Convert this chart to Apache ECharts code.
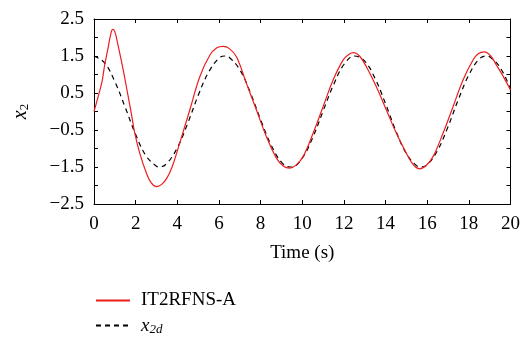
<!DOCTYPE html>
<html>
<head>
<meta charset="utf-8">
<script src="https://cdn.jsdelivr.net/npm/echarts@6/dist/echarts.min.js"></script>
<style>
html, body { margin: 0; padding: 0; background: #fff; }
#chart { width: 523px; height: 337px; }
</style>
</head>
<body>
<div id="chart"></div>
<script>
( () => {
    // values, [time (s), value]
    const seriesNames = [ 'IT2RFNS-A', 'x2d' ];

    const actualValues = [
        [ 0, 0 ], [ 0.27, 0.55 ], [ 0.4, 0.85 ], [ 0.51, 1.25 ], [ 0.67, 1.7 ],
        [ 0.8, 2.08 ], [ 0.9, 2.22 ], [ 1.0, 2.16 ], [ 1.15, 1.8 ], [ 1.39, 1.16 ],
        [ 1.63, 0.44 ], [ 1.8, -0.08 ], [ 1.96, -0.59 ], [ 2.2, -1.13 ], [ 2.52, -1.67 ],
        [ 2.75, -1.93 ], [ 3.0, -2.03 ], [ 3.25, -1.97 ], [ 3.5, -1.8 ], [ 3.75, -1.5 ],
        [ 4.1, -0.88 ], [ 4.6, 0.04 ], [ 5.08, 0.94 ], [ 5.56, 1.52 ], [ 5.9, 1.72 ],
        [ 6.2, 1.76 ], [ 6.5, 1.7 ], [ 6.84, 1.48 ], [ 7.32, 0.76 ], [ 7.8, 0.04 ],
        [ 8.28, -0.68 ], [ 8.76, -1.26 ], [ 9.1, -1.48 ], [ 9.4, -1.53 ], [ 9.7, -1.45 ],
        [ 10.04, -1.22 ], [ 10.52, -0.59 ], [ 11.0, 0.13 ], [ 11.48, 0.85 ], [ 11.96, 1.39 ],
        [ 12.25, 1.55 ], [ 12.49, 1.59 ], [ 12.75, 1.5 ], [ 13.08, 1.21 ], [ 13.56, 0.67 ],
        [ 14.04, 0.04 ], [ 14.52, -0.59 ], [ 15.0, -1.13 ], [ 15.35, -1.45 ], [ 15.64, -1.55 ],
        [ 15.95, -1.46 ], [ 16.28, -1.22 ], [ 16.76, -0.59 ], [ 17.24, 0.13 ], [ 17.72, 0.85 ],
        [ 18.2, 1.39 ], [ 18.45, 1.56 ], [ 18.75, 1.61 ], [ 19.05, 1.5 ], [ 19.33, 1.25 ],
        [ 19.65, 0.95 ], [ 20, 0.58 ],
    ];

    const desiredValues = [
        [ 0, 1.5 ], [ 0.5, 1.32 ], [ 1.0, 0.81 ], [ 1.5, 0.11 ], [ 2.0, -0.62 ],
        [ 2.5, -1.2 ], [ 3.0, -1.48 ], [ 3.14, -1.5 ], [ 3.5, -1.4 ], [ 4.0, -0.98 ],
        [ 4.5, -0.32 ], [ 5.0, 0.43 ], [ 5.5, 1.06 ], [ 6.0, 1.44 ], [ 6.28, 1.5 ],
        [ 6.5, 1.46 ], [ 7.0, 1.13 ], [ 7.5, 0.52 ], [ 8.0, -0.22 ], [ 8.5, -0.9 ],
        [ 9.0, -1.37 ], [ 9.42, -1.5 ], [ 9.5, -1.5 ], [ 10.0, -1.26 ], [ 10.5, -0.71 ],
        [ 11.0, 0.01 ], [ 11.5, 0.72 ], [ 12.0, 1.27 ], [ 12.5, 1.5 ], [ 13.0, 1.36 ],
        [ 13.5, 0.89 ], [ 14.0, 0.21 ], [ 14.5, -0.53 ], [ 15.0, -1.14 ], [ 15.5, -1.47 ],
        [ 15.71, -1.5 ], [ 16.0, -1.44 ], [ 16.5, -1.05 ], [ 17.0, -0.41 ], [ 17.5, 0.33 ],
        [ 18.0, 0.99 ], [ 18.5, 1.42 ], [ 18.85, 1.5 ], [ 19.0, 1.48 ], [ 19.5, 1.19 ],
        [ 20, 0.61 ],
    ];

    const fontFamily = 'Liberation Serif';

    const boxAxis = {
        axisLine: { show: true, onZero: false, lineStyle: { color: '#000', width: 1 } },
        axisTick: { show: true, inside: true, length: 4, lineStyle: { color: '#000' } },
        splitLine: { show: false },
    };

    // one legend per entry so they stack like the reference
    const legendFor = ( name, top ) => ( {
        orient: 'vertical', left: 95, top, padding: 0,
        itemWidth: 34, itemHeight: 12,
        itemStyle: { opacity: 0 },
        data: [ name ],
        textStyle: {
            fontFamily, fontSize: 19, color: '#000', padding: [ 0, 0, 0, 6 ],
            rich: {
                a: { fontFamily, fontSize: 19, fontStyle: 'italic', color: '#000' },
                b: { fontFamily, fontSize: 13, fontStyle: 'italic', color: '#000', padding: [ 8, 0, 0, 0 ] },
            },
        },
        formatter: ( n ) => n === 'x2d' ? '{a|x}{b|2d}' : n,
    } );

    const chart = echarts.init( document.getElementById( 'chart' ), null, { renderer: 'canvas' } );

    chart.setOption( {
        animation: false,
        grid: { left: 94, right: 12, top: 19, bottom: 133 },
        xAxis: [
            Object.assign( {
                type: 'value', min: 0, max: 20, interval: 2, position: 'bottom',
                name: 'Time (s)', nameLocation: 'middle', nameGap: 40,
                nameTextStyle: { fontFamily, fontSize: 19, color: '#000' },
                axisLabel: { margin: 11, fontFamily, fontSize: 19, color: '#000' },
            }, boxAxis ),
            Object.assign( {
                type: 'value', min: 0, max: 20, interval: 2, position: 'top',
                axisLabel: { show: false },
            }, boxAxis ),
        ],
        yAxis: [
            Object.assign( {
                type: 'value', min: -2.5, max: 2.5, interval: 0.5, position: 'left',
                name: '{a|x}{b|2}', nameLocation: 'middle', nameGap: 63, nameRotate: 90,
                nameTextStyle: {
                    rich: {
                        a: { fontFamily, fontSize: 20, fontStyle: 'italic', color: '#000' },
                        b: { fontFamily, fontSize: 13, color: '#000', padding: [ 8, 0, 0, 0 ] },
                    },
                },
                axisLabel: {
                    margin: 10, fontFamily, fontSize: 19, color: '#000',
                    formatter: ( v ) => {
                        if ( Math.abs( ( ( v + 2.5 ) % 1 ) ) > 0.01 ) {
                            return '';
                        }
                        return v < 0 ? '\u2212' + Math.abs( v ).toFixed( 1 ) : v.toFixed( 1 );
                    },
                },
            }, boxAxis ),
            Object.assign( {
                type: 'value', min: -2.5, max: 2.5, interval: 0.5, position: 'right',
                axisLabel: { show: false },
            }, boxAxis ),
        ],
        legend: [
            legendFor( seriesNames[ 0 ], 291 ),
            legendFor( seriesNames[ 1 ], 316 ),
        ],
        series: [
            {
                name: seriesNames[ 0 ], type: 'line', data: actualValues, smooth: 0.4,
                symbol: 'none', lineStyle: { color: '#ee1c1c', width: 1.2 },
                itemStyle: { color: '#ee1c1c' }, z: 3,
            },
            {
                name: seriesNames[ 1 ], type: 'line', data: desiredValues, smooth: 0.4,
                symbol: 'none', lineStyle: { color: '#000', width: 1.2, type: [ 5, 4 ] },
                itemStyle: { color: '#000' }, z: 2,
            },
        ],
    } );
} ) ();
</script>
</body>
</html>
